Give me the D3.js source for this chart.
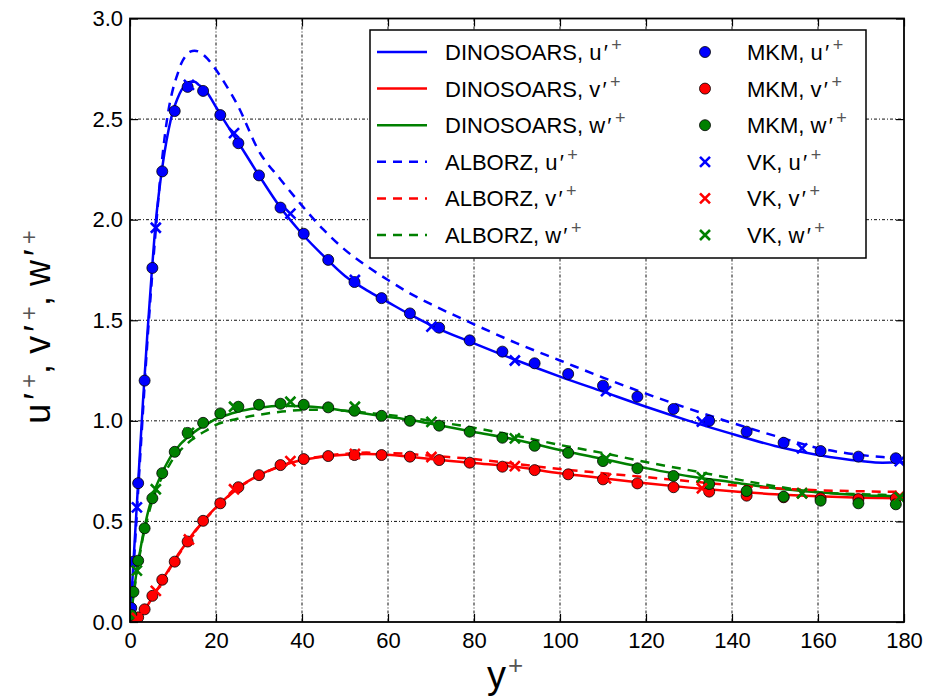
<!DOCTYPE html>
<html><head><meta charset="utf-8">
<script src="https://cdnjs.cloudflare.com/ajax/libs/d3/7.8.5/d3.min.js"></script>
<style>body{margin:0;background:#fff;} text{font-family:"Liberation Sans",Arial,sans-serif;}</style>
</head><body><svg id="c" width="938" height="699"></svg>
<script>
// ---------- data ----------
const curveYPlus = [0,1,2,3,4,5,6,7,8,9,10,11,12,13,14,15,16,18,20,22,25,30,35,40,45,50,55,60,65,70,80,90,100,110,120,130,140,150,160,170,175,180];
const dinoU = [0,0.37,0.73,1.09,1.42,1.72,1.99,2.18,2.33,2.45,2.54,2.60,2.645,2.67,2.685,2.685,2.67,2.63,2.56,2.49,2.39,2.22,2.06,1.93,1.82,1.72,1.65,1.59,1.53,1.475,1.385,1.30,1.22,1.145,1.07,1.00,0.935,0.875,0.83,0.80,0.792,0.795];
const dinoV = [0,0.01,0.025,0.05,0.08,0.115,0.15,0.185,0.225,0.26,0.295,0.33,0.36,0.39,0.42,0.45,0.475,0.525,0.57,0.61,0.665,0.73,0.775,0.805,0.822,0.832,0.835,0.832,0.822,0.81,0.79,0.77,0.74,0.715,0.69,0.668,0.65,0.635,0.625,0.618,0.616,0.615];
const dinoW = [0,0.17,0.31,0.43,0.53,0.61,0.67,0.72,0.765,0.805,0.84,0.865,0.89,0.91,0.93,0.945,0.96,0.985,1.01,1.025,1.045,1.065,1.075,1.073,1.065,1.05,1.035,1.02,1.005,0.985,0.945,0.905,0.855,0.81,0.765,0.725,0.695,0.665,0.645,0.63,0.627,0.625];
const alborzU = [0,0.33,0.69,1.04,1.38,1.68,1.95,2.20,2.40,2.55,2.65,2.72,2.78,2.815,2.835,2.84,2.835,2.80,2.745,2.68,2.57,2.34,2.20,2.07,1.95,1.85,1.77,1.70,1.635,1.58,1.48,1.385,1.30,1.215,1.135,1.06,0.99,0.925,0.865,0.83,0.82,0.815];
const alborzV = [0,0.01,0.025,0.05,0.08,0.112,0.147,0.182,0.22,0.256,0.29,0.325,0.356,0.386,0.416,0.446,0.472,0.522,0.568,0.608,0.663,0.728,0.775,0.806,0.825,0.836,0.842,0.84,0.835,0.826,0.81,0.785,0.76,0.74,0.72,0.70,0.68,0.665,0.655,0.65,0.648,0.648];
const alborzW = [0,0.16,0.30,0.42,0.51,0.59,0.65,0.70,0.74,0.775,0.81,0.835,0.86,0.88,0.90,0.915,0.93,0.955,0.98,0.995,1.01,1.03,1.045,1.054,1.055,1.05,1.04,1.03,1.015,1.0,0.965,0.925,0.88,0.84,0.795,0.755,0.714,0.675,0.645,0.635,0.632,0.63];

const mkmYPlus = [0.3,0.8,1.9,3.4,5.2,7.5,10.4,13.4,17.0,21.0,25.2,30.0,35.0,40.4,46.1,52.2,58.5,65.1,71.9,79.0,86.6,94.1,101.9,110.0,118.0,126.4,134.7,143.4,152.0,160.6,169.4,178.1];
const mkmU = [0.07,0.30,0.69,1.20,1.76,2.24,2.54,2.66,2.64,2.52,2.38,2.22,2.06,1.93,1.80,1.69,1.61,1.534,1.463,1.40,1.344,1.286,1.233,1.175,1.12,1.059,1.0,0.946,0.891,0.85,0.822,0.814];
const mkmV = [0.005,0.01,0.023,0.063,0.13,0.21,0.30,0.40,0.503,0.59,0.67,0.73,0.78,0.81,0.825,0.83,0.83,0.822,0.805,0.792,0.772,0.755,0.734,0.709,0.689,0.67,0.648,0.628,0.62,0.615,0.611,0.615];
const mkmW = [0.035,0.15,0.305,0.466,0.615,0.74,0.846,0.94,0.99,1.037,1.07,1.08,1.085,1.08,1.067,1.05,1.025,1.0,0.976,0.946,0.916,0.876,0.841,0.80,0.764,0.726,0.686,0.651,0.623,0.603,0.59,0.585];

const vkYPlus = [1.6,6.0,13.7,24.2,37.3,52.3,70.1,89.5,110.7,133.0,156.3,179.0];
const vkU = [0.57,1.96,2.67,2.43,2.03,1.70,1.468,1.30,1.148,0.996,0.863,0.80];
const vkV = [0.02,0.155,0.41,0.66,0.80,0.835,0.82,0.775,0.714,0.665,0.64,0.625];
const vkW = [0.255,0.66,0.94,1.07,1.095,1.07,0.995,0.913,0.813,0.72,0.64,0.62];

const xTicks = [0,20,40,60,80,100,120,140,160,180];
const yTicks = [0,0.5,1.0,1.5,2.0,2.5,3.0];

const legendLeft = [
  {name:"DINOSOARS", comp:"u", color:"#0000ff", dash:null},
  {name:"DINOSOARS", comp:"v", color:"#ff0000", dash:null},
  {name:"DINOSOARS", comp:"w", color:"#008000", dash:null},
  {name:"ALBORZ", comp:"u", color:"#0000ff", dash:"9,7"},
  {name:"ALBORZ", comp:"v", color:"#ff0000", dash:"9,7"},
  {name:"ALBORZ", comp:"w", color:"#008000", dash:"9,7"}
];
const legendRight = [
  {name:"MKM", comp:"u", color:"#0000ff", mark:"o"},
  {name:"MKM", comp:"v", color:"#ff0000", mark:"o"},
  {name:"MKM", comp:"w", color:"#008000", mark:"o"},
  {name:"VK", comp:"u", color:"#0000ff", mark:"x"},
  {name:"VK", comp:"v", color:"#ff0000", mark:"x"},
  {name:"VK", comp:"w", color:"#008000", mark:"x"}
];

// ---------- drawing ----------
const svg = d3.select("#c");
const L=130, R=904, T=18.5, B=622;
const x = d3.scaleLinear([0,180],[L,R]);
const y = d3.scaleLinear([0,3],[B,T]);

svg.append("rect").attr("width",938).attr("height",699).attr("fill","#fff");

svg.append("defs").append("clipPath").attr("id","clip")
  .append("rect").attr("x",L).attr("y",T).attr("width",R-L).attr("height",B-T);

// grid
const grid = svg.append("g").attr("stroke","#111").attr("stroke-width",1).attr("stroke-dasharray","3,2,1,2");
grid.selectAll(".gx").data(xTicks.slice(1,-1)).join("line")
  .attr("x1",d=>x(d)).attr("x2",d=>x(d)).attr("y1",T).attr("y2",B);
grid.selectAll(".gy").data(yTicks.slice(1,-1)).join("line")
  .attr("y1",d=>y(d)).attr("y2",d=>y(d)).attr("x1",L).attr("x2",R);

// axes
function styleAxis(g){
  g.select(".domain").remove();
  g.selectAll(".tick line").attr("stroke","#000").attr("stroke-width",1.2);
  g.selectAll(".tick text").attr("font-size",22).attr("fill","#000")
    .style("font-family","'Liberation Sans',Arial,sans-serif");
}
svg.append("g").attr("transform",`translate(0,${B})`)
  .call(d3.axisBottom(x).tickValues(xTicks).tickSize(-8).tickPadding(10).tickFormat(d3.format("d"))).call(styleAxis);
svg.append("g").attr("transform",`translate(0,${T})`)
  .call(d3.axisTop(x).tickValues(xTicks).tickSize(-8).tickFormat("")).call(styleAxis);
svg.append("g").attr("transform",`translate(${L},0)`)
  .call(d3.axisLeft(y).tickValues(yTicks).tickSize(-8).tickPadding(7).tickFormat(d3.format(".1f"))).call(styleAxis);
svg.append("g").attr("transform",`translate(${R},0)`)
  .call(d3.axisRight(y).tickValues(yTicks).tickSize(-8).tickFormat("")).call(styleAxis);

// curves
const plot = svg.append("g").attr("clip-path","url(#clip)");
const line = d3.line().x(d=>x(d[0])).y(d=>y(d[1])).curve(d3.curveMonotoneX);
const curves = [
  [dinoU,"#0000ff",null],[dinoV,"#ff0000",null],[dinoW,"#008000",null],
  [alborzU,"#0000ff","9,7"],[alborzV,"#ff0000","9,7"],[alborzW,"#008000","9,7"]
];
curves.forEach(([vals,col,dash])=>{
  plot.append("path").datum(curveYPlus.map((xv,i)=>[xv,vals[i]]))
    .attr("d",line).attr("fill","none").attr("stroke",col).attr("stroke-width",2.5)
    .attr("stroke-dasharray",dash);
});

// MKM dots
[[mkmU,"#0000ff"],[mkmV,"#ff0000"],[mkmW,"#008000"]].forEach(([vals,col])=>{
  plot.append("g").selectAll("circle").data(mkmYPlus.map((xv,i)=>[xv,vals[i]])).join("circle")
    .attr("cx",d=>x(d[0])).attr("cy",d=>y(d[1])).attr("r",5.5)
    .attr("fill",col).attr("stroke","#000").attr("stroke-width",0.8);
});
// VK crosses
function cross(g,cx,cy,s,col){
  g.append("path").attr("d",`M${cx-s},${cy-s}L${cx+s},${cy+s}M${cx-s},${cy+s}L${cx+s},${cy-s}`)
    .attr("stroke",col).attr("stroke-width",2.6).attr("fill","none");
}
[[vkU,"#0000ff"],[vkV,"#ff0000"],[vkW,"#008000"]].forEach(([vals,col])=>{
  const g = plot.append("g");
  vkYPlus.forEach((xv,i)=>cross(g,x(xv),y(vals[i]),5,col));
});

// frame
svg.append("rect").attr("x",L).attr("y",T).attr("width",R-L).attr("height",B-T)
  .attr("fill","none").attr("stroke","#000").attr("stroke-width",1.8);

// labels with prime + superscript
function labelText(t, base, comp, fs, supFs, supDy){
  t.append("tspan").text(base + comp);
  t.append("tspan").attr("dx",fs*0.1).text("\u2032");
  t.append("tspan").attr("dx",fs*0.16).attr("dy",supDy).attr("font-size",supFs).attr("fill","#555").text("+");
}

// legend
const lg = svg.append("g");
lg.append("rect").attr("x",370).attr("y",30).attr("width",496).attr("height",228)
  .attr("fill","#fff").attr("stroke","#000").attr("stroke-width",1.5);
const rowY = i => 52 + i*36.6;
legendLeft.forEach((d,i)=>{
  lg.append("line").attr("x1",377).attr("x2",427).attr("y1",rowY(i)).attr("y2",rowY(i))
    .attr("stroke",d.color).attr("stroke-width",2.5).attr("stroke-dasharray",d.dash);
  const t = lg.append("text").attr("x",445).attr("y",rowY(i)+8).attr("font-size",22).attr("fill","#000");
  labelText(t, d.name+", ", d.comp, 22, 18, -9);
});
legendRight.forEach((d,i)=>{
  const cx=705, cy=rowY(i);
  if(d.mark==="o"){
    lg.append("circle").attr("cx",cx).attr("cy",cy).attr("r",5.5).attr("fill",d.color).attr("stroke","#000").attr("stroke-width",0.8);
  } else cross(lg,cx,cy,5,d.color);
  const t = lg.append("text").attr("x",747).attr("y",rowY(i)+8).attr("font-size",22).attr("fill","#000");
  labelText(t, d.name+", ", d.comp, 22, 18, -9);
});

// axis labels
const xl = svg.append("text").attr("x",505).attr("y",688).attr("text-anchor","middle").attr("font-size",38).attr("fill","#000");
xl.append("tspan").text("y");
xl.append("tspan").attr("dx",2).attr("dy",-14).attr("font-size",26).attr("fill","#555").text("+");

const yl = svg.append("text").attr("transform","translate(50,327) rotate(-90)").attr("text-anchor","middle").attr("font-size",36).attr("fill","#000");
["u","v","w"].forEach((c,i)=>{
  yl.append("tspan").attr("dy", i===0?0:13).text((i===0?"":", ")+c);
  yl.append("tspan").attr("dx",4).text("\u2032");
  yl.append("tspan").attr("dx",5).attr("dy",-13).attr("font-size",24).attr("fill","#555").text("+");
});
</script></body></html>
